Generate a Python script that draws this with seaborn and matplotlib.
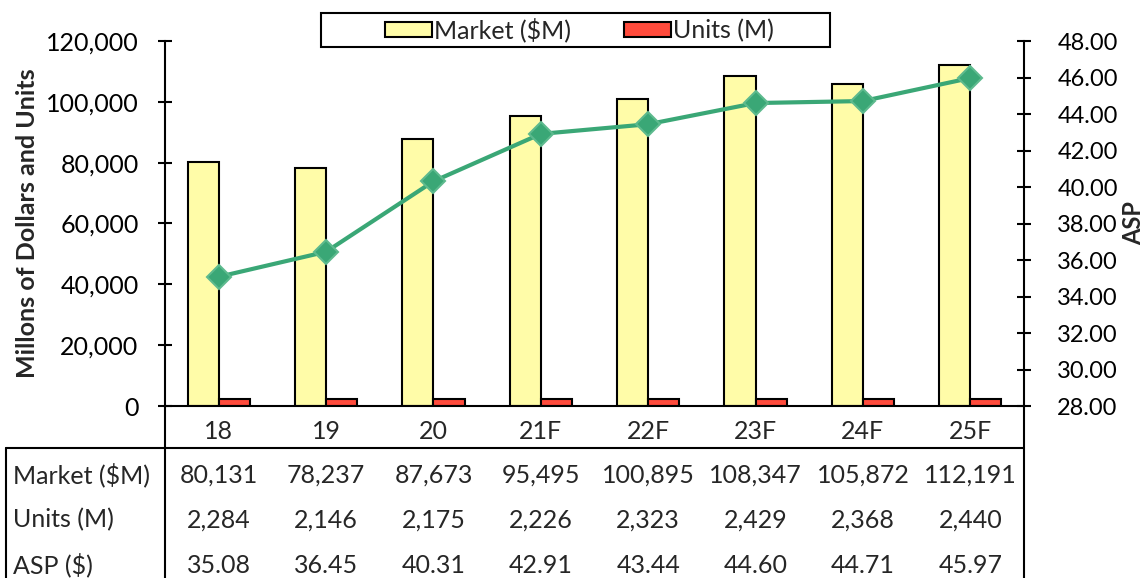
import matplotlib
matplotlib.use('Agg')
import matplotlib.pyplot as plt
from matplotlib.lines import Line2D
from matplotlib.patches import Rectangle
from matplotlib.ticker import FuncFormatter
from matplotlib.transforms import blended_transform_factory
import pandas as pd
import seaborn as sns

years = ['18', '19', '20', '21F', '22F', '23F', '24F', '25F']
market = [80131, 78237, 87673, 95495, 100895, 108347, 105872, 112191]
units = [2284, 2146, 2175, 2226, 2323, 2429, 2368, 2440]
asp = [35.08, 36.45, 40.31, 42.91, 43.44, 44.60, 44.71, 45.97]
series_names = ['Market ($M)', 'Units (M)']
row_labels = ['Market ($M)', 'Units (M)', 'ASP ($)']

sns.set_style('white')
plt.rcParams['font.family'] = ['Lato', 'DejaVu Sans']
FS = 18

df = pd.DataFrame({'year': years * 2,
                   'series': [series_names[0]] * len(years) + [series_names[1]] * len(years),
                   'value': market + units})

W, H = 1148, 578
fig = plt.figure(figsize=(W / 100, H / 100), dpi=100)
ax = fig.add_axes([165 / W, (H - 406) / H, 859 / W, 365 / H])

sns.barplot(data=df, x='year', y='value', hue='series', palette=['#FFFCA8', '#FF4B3C'],
            width=0.58, edgecolor='black', linewidth=1.5, saturation=1, ax=ax)
ax.set_ylim(0, 120000)
ax.set_yticks(range(0, 120001, 20000))
ax.yaxis.set_major_formatter(FuncFormatter(lambda v, p: f'{v:,.0f}'))
ax.set_xlim(-0.5, len(years) - 0.5)
ax.set_xlabel('')
ax.set_ylabel('Millons of Dollars and Units', fontsize=FS, fontweight='bold')
ax.yaxis.set_label_coords(-0.1467, 0.5)
ax.tick_params(axis='y', left=True, direction='inout', length=10, width=1.5,
               labelsize=FS, pad=14, colors='black')
ax.tick_params(axis='x', bottom=False, labelbottom=False)
for s in ['top', 'right']:
    ax.spines[s].set_visible(False)
for s in ['left', 'bottom']:
    ax.spines[s].set_color('black')
    ax.spines[s].set_linewidth(1.5)

# ASP line on the right axis
ax2 = ax.twinx()
sns.pointplot(x=years, y=asp, ax=ax2, color='#3AA776', markers='D', markersize=12,
              markeredgecolor='#5DBA8E', markeredgewidth=1.5, linewidth=3, errorbar=None)
ax2.set_ylim(28, 48)
ax2.set_yticks([28 + 2 * i for i in range(11)])
ax2.yaxis.set_major_formatter(FuncFormatter(lambda v, p: f'{v:.2f}'))
ax2.set_xlim(-0.5, len(years) - 0.5)
ax2.set_ylabel('ASP', fontsize=17, fontweight='bold')
ax2.yaxis.set_label_coords((1134 - 165) / 859, 0.5)
ax2.yaxis.label.set_verticalalignment('center')
ax2.tick_params(axis='y', right=True, direction='inout', length=10, width=1.5,
                labelsize=17, pad=19, colors='black')
ax2.tick_params(axis='x', bottom=False, labelbottom=False)
for s in ['top', 'left', 'bottom']:
    ax2.spines[s].set_visible(False)
ax2.spines['right'].set_color('black')
ax2.spines['right'].set_linewidth(1.5)

# legend: frameless entries plus a wide box drawn round them
sns.move_legend(ax, 'center', bbox_to_anchor=(579.5 / W, 1 - 30 / H), bbox_transform=fig.transFigure,
                ncol=2, title=None, frameon=False, fontsize=FS, handlelength=1.88,
                handleheight=0.6, handletextpad=0.1, columnspacing=2.1, borderpad=0.2)
fig.add_artist(Rectangle((321 / W, 1 - 47 / H), 509 / W, 34 / H, transform=fig.transFigure,
                         facecolor='none', edgecolor='black', lw=1.5, zorder=10))

# data table below the plot
trans = blended_transform_factory(ax.transData, ax.transAxes)
row_y = [-0.189, -0.312, -0.436]
for i, yr in enumerate(years):
    ax.text(i, -0.071, yr, ha='center', va='center', fontsize=FS, transform=trans, clip_on=False)
    ax.text(i, row_y[0], f'{market[i]:,}', ha='center', va='center', fontsize=FS, transform=trans, clip_on=False)
    ax.text(i, row_y[1], f'{units[i]:,}', ha='center', va='center', fontsize=FS, transform=trans, clip_on=False)
    ax.text(i, row_y[2], f'{asp[i]:.2f}', ha='center', va='center', fontsize=FS, transform=trans, clip_on=False)
for lab, yy in zip(row_labels, row_y):
    ax.text(-0.177, yy, lab, ha='left', va='center', fontsize=FS, transform=ax.transAxes, clip_on=False)

def fline(xs, ys):
    fig.add_artist(Line2D([x / W for x in xs], [1 - y / H for y in ys], color='black',
                          lw=1.5, transform=fig.transFigure))

fline([6, 1024], [448, 448])
fline([6, 6], [448, 578])
fline([165, 165], [406, 578])
fline([1024, 1024], [406, 578])

fig.savefig('out.png', dpi=100)
